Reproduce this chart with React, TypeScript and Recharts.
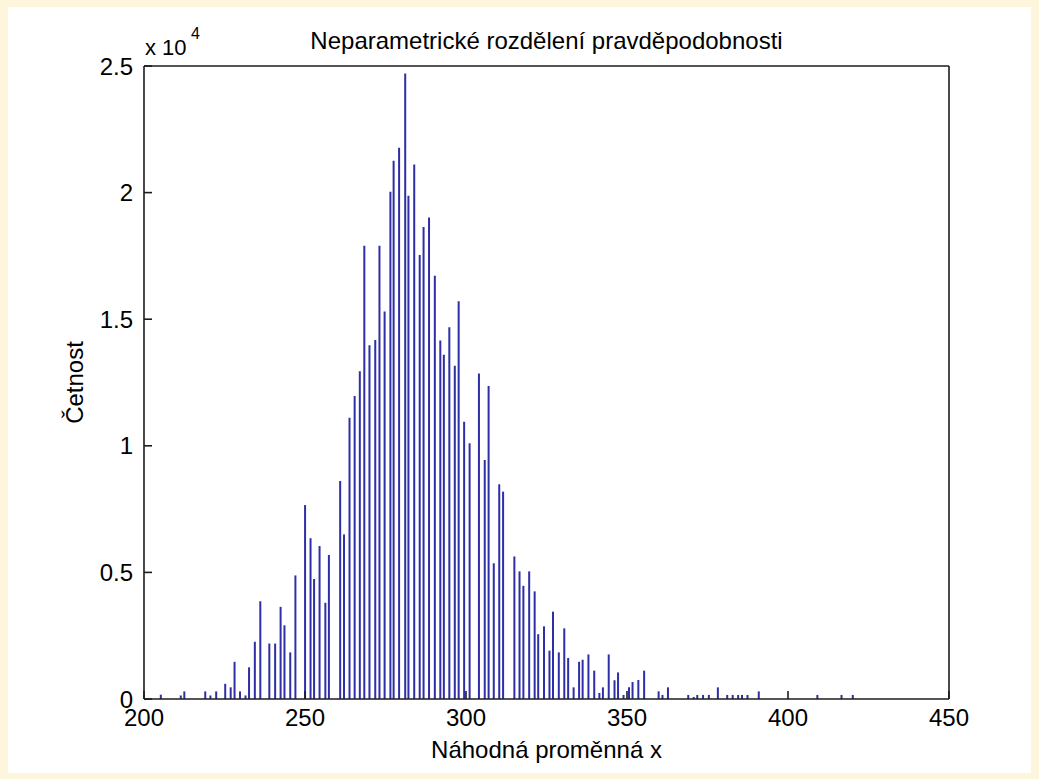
import * as React from "react";
import { Bar, BarChart, XAxis, YAxis } from "recharts";

// bin centres (x) and counts
const binX = [
  205.1, 211.3, 212.4, 218.9, 220.5, 222.3, 225.1, 226.8, 228.0, 229.7,
  231.4, 232.5, 234.3, 236.0, 238.8, 240.6, 242.3, 243.5, 245.3, 246.9,
  249.9, 251.6, 252.7, 254.4, 256.2, 257.3, 260.8, 262.0, 263.7, 265.3,
  266.9, 268.3, 269.9, 271.7, 273.0, 274.6, 276.4, 277.4, 279.1, 281.0,
  282.0, 283.8, 285.5, 286.7, 288.4, 290.2, 291.9, 293.0, 294.7, 296.4,
  297.6, 299.3, 301.0, 303.9, 305.7, 306.9, 308.5, 310.2, 311.4, 314.9,
  316.5, 317.7, 319.5, 321.2, 322.3, 324.1, 325.8, 326.9, 328.7, 330.4,
  331.6, 333.3, 335.0, 336.1, 337.9, 339.7, 341.3, 342.4, 344.2, 346.0,
  347.1, 348.8, 350.5, 351.6, 353.4, 355.2, 359.7, 360.9, 362.6, 368.9,
  370.6, 371.7, 373.5, 375.3, 378.1, 381.0, 382.7, 384.4, 385.6, 387.3,
  390.8, 409.0, 416.5, 420.0,
];

const counts = [
  170, 140, 300, 300, 140, 300, 600, 460, 1470, 300,
  140, 1250, 2260, 3860, 2190, 2190, 3640, 2910, 1840, 4880,
  7660, 6350, 4740, 6040, 3800, 5690, 8610, 6500, 11110, 11970,
  12940, 17900, 13970, 14180, 17900, 15300, 20030, 21260, 21770, 24700,
  19880, 21110, 17540, 18640, 19020, 16720, 14160, 13600, 14680, 13160,
  15710, 10950, 10100, 12860, 9440, 12360, 5360, 8480, 8190, 5630,
  5040, 4470, 5040, 4250, 2560, 2870, 1910, 3450, 1840, 2790,
  1620, 460, 1470, 1550, 1760, 1120, 240, 460, 1760, 740,
  1050, 160, 460, 670, 750, 1120, 300, 160, 460, 160,
  80, 160, 160, 160, 460, 160, 160, 160, 160, 160,
  300, 160, 160, 160,
];

const xTicks = [200, 250, 300, 350, 400, 450];
const yTicks = [0, 5000, 10000, 15000, 20000, 25000];

const title = "Neparametrické rozdělení pravděpodobnosti";
const xLabel = "Náhodná proměnná x";
const yLabel = "Četnost";

const rows = binX.map((x, i) => ({ x, count: counts[i] }));

const FONT = "'Liberation Sans', Arial, Helvetica, sans-serif";
const AXIS = { stroke: "#1c1c1c", strokeWidth: 1.6 };
const tickStyle = { fontSize: 24, fill: "#000", fontFamily: FONT };

export default function App() {
  return (
    <div
      style={{
        position: "fixed",
        left: 0,
        top: 0,
        width: 1039,
        height: 779,
        background: "#fdf6dc",
      }}
    >
      <div
        style={{
          position: "absolute",
          left: 8,
          top: 7,
          width: 1023,
          height: 766,
          background: "#fff",
        }}
      />
      <div style={{ position: "absolute", left: 0, top: 0 }}>
        <BarChart
          width={1039}
          height={779}
          data={rows}
          margin={{ top: 65, right: 89, left: 84, bottom: 50 }}
        >
          <XAxis
            xAxisId="x"
            dataKey="x"
            type="number"
            domain={[200, 450]}
            ticks={xTicks}
            interval={0}
            allowDataOverflow
            height={30}
            tickSize={-8}
            tickMargin={18}
            axisLine={AXIS}
            tickLine={AXIS}
            tick={tickStyle}
          />
          <XAxis
            xAxisId="top"
            orientation="top"
            type="number"
            domain={[200, 450]}
            ticks={xTicks}
            interval={0}
            allowDataOverflow
            height={1}
            tickSize={-8}
            tick={false}
            axisLine={AXIS}
            tickLine={AXIS}
          />
          <YAxis
            yAxisId="y"
            type="number"
            domain={[0, 25000]}
            ticks={yTicks}
            interval={0}
            allowDataOverflow
            width={60}
            tickSize={-8}
            tickMargin={19}
            axisLine={AXIS}
            tickLine={AXIS}
            tick={tickStyle}
            tickFormatter={(v: number) => String(v / 10000)}
          />
          <YAxis
            yAxisId="right"
            orientation="right"
            type="number"
            domain={[0, 25000]}
            ticks={yTicks}
            interval={0}
            allowDataOverflow
            width={1}
            tickSize={-8}
            tick={false}
            axisLine={AXIS}
            tickLine={AXIS}
          />
          <Bar
            xAxisId="x"
            yAxisId="y"
            dataKey="count"
            fill="#2e2ea6"
            barSize={2}
            isAnimationActive={false}
          />
        </BarChart>
      </div>
      <svg
        width={1039}
        height={779}
        style={{ position: "absolute", left: 0, top: 0, pointerEvents: "none" }}
        fontFamily={FONT}
        fill="#000"
      >
        <text x={546.5} y={49} fontSize={24} textAnchor="middle">
          {title}
        </text>
        <text x={145} y={55} fontSize={22}>
          x 10
        </text>
        <text x={191} y={39} fontSize={16}>
          4
        </text>
        <text x={546.5} y={758} fontSize={24} textAnchor="middle">
          {xLabel}
        </text>
        <text
          x={0}
          y={0}
          fontSize={24}
          textAnchor="middle"
          transform="translate(83 382.5) rotate(-90)"
        >
          {yLabel}
        </text>
      </svg>
    </div>
  );
}
